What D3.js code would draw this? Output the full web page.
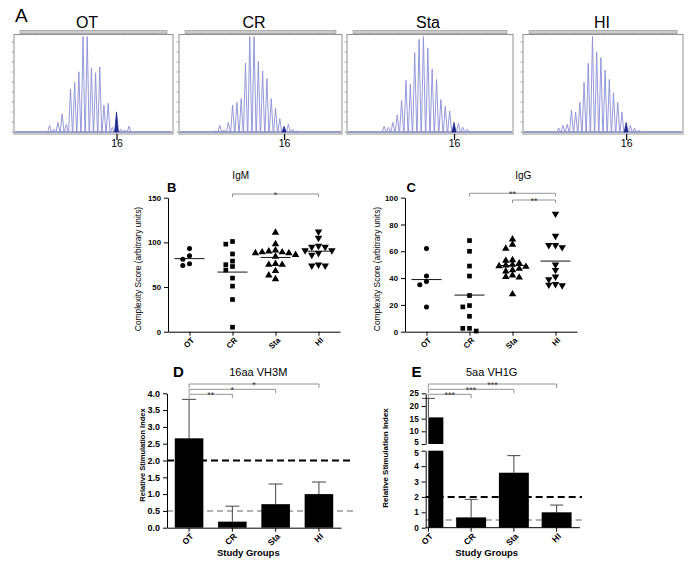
<!DOCTYPE html>
<html><head><meta charset="utf-8">
<script src="https://cdn.jsdelivr.net/npm/d3@7"></script>
<style>
body{margin:0;background:#fff}
svg{display:block}
text{font-family:"Liberation Sans",Arial,sans-serif}
</style>
</head><body>
<svg id="chart" width="694" height="567"></svg>
<script>
// ---------------- DATA ----------------
const groups = ["OT", "CR", "Sta", "HI"];

// Panel A: spectratype peak heights (relative), CDR3 length index 0..19
const spectraLengths = [0,1,2,3,4,5,6,7,8,9,10,11,12,13,14,15,16,17,18,19];
const spectraOT  = [0.07,0.03,0.10,0.19,0.08,0.45,0.52,0.63,1.00,1.00,0.67,0.62,0.68,0.28,0.30,0.05,0.21,0.03,0.02,0.06];
const spectraCR  = [0.01,0.07,0.02,0.10,0.28,0.31,0.35,0.72,1.00,1.00,0.74,0.64,0.56,0.35,0.25,0.14,0.06,0.08,0.03,0.01];
const spectraSta = [0.06,0.05,0.10,0.18,0.33,0.54,0.50,0.83,0.97,1.00,0.88,0.66,0.55,0.34,0.27,0.22,0.10,0.09,0.05,0.03];
const spectraHI  = [0.04,0.07,0.08,0.23,0.21,0.31,0.52,0.72,1.00,0.84,0.78,0.65,0.55,0.41,0.31,0.21,0.10,0.07,0.04,0.02];
const markedLength = 16;

// Panel B: IgM complexity scores
const igmOT  = [93, 85, 81, 76, 74];
const igmCR  = [101, 98, 87, 79, 75, 73, 69, 60, 51, 36, 5];
const igmSta = [111, 98, 91, 90, 89, 89, 88, 88, 86, 84, 76, 75, 75, 68, 63, 59];
const igmHI  = [112, 105, 96, 95, 95, 91, 91, 88, 86, 75, 74, 74];
const igmTicks = [0, 50, 100, 150];

// Panel C: IgG complexity scores
const iggOT  = [62, 41.5, 37.5, 35, 18.5];
const iggCR  = [68, 60, 49, 41.5, 27, 19.5, 18.5, 11.5, 2.5, 2.5, 0.5];
const iggSta = [69, 65, 62, 53.5, 53, 51, 50, 49.5, 49, 48.5, 47, 46, 45, 42, 41, 40.5, 28];
const iggHI  = [88, 71.5, 64.5, 64.5, 63, 50, 46, 41, 39, 35.5, 35, 34.5];
const iggTicks = [0, 20, 40, 60, 80, 100];

// Panel D: 16aa VH3M relative stimulation index (mean, mean+error)
const vh3mMean  = [2.66, 0.18, 0.70, 1.00];
const vh3mUpper = [3.82, 0.64, 1.30, 1.36];
const vh3mTicks = [0, 0.5, 1.0, 1.5, 2.0, 2.5, 3.0, 3.5, 4.0];

// Panel E: 5aa VH1G relative stimulation index (mean, mean+error)
const vh1gMean  = [15.5, 0.67, 3.57, 1.00];
const vh1gUpper = [23.0, 1.84, 4.68, 1.47];
const vh1gTicksLow  = [0, 1, 2, 3, 4, 5];
const vh1gTicksHigh = [5, 10, 15, 20, 25];

const cutoffHigh = 2.0, cutoffLow = 0.5;

// significance comparisons [from, to, label]
const sigB = [["CR", "HI", "*"]];
const sigC = [["CR", "HI", "**"], ["Sta", "HI", "**"]];
const sigD = [["OT", "HI", "*"], ["OT", "Sta", "*"], ["OT", "CR", "**"]];
const sigE = [["OT", "HI", "***"], ["OT", "Sta", "***"], ["OT", "CR", "***"]];

// ---------------- DRAW ----------------
const svg = d3.select("#chart");
const FONT = '"Liberation Sans",Arial,sans-serif';

// ===== Panel A =====
svg.append("text").attr("x", 15).attr("y", 22).attr("font-size", 19).text("A");
const spectra = [spectraOT, spectraCR, spectraSta, spectraHI];
const aFrames = [[14, 173], [179, 342], [347, 513], [523, 683]];
const aTitleX = [87, 254, 428, 602];
const aTop = 34.5, aBottom = 134, aBase = 132;
spectra.forEach((heights, p) => {
  const [l, r] = aFrames[p];
  const g = svg.append("g");
  const x = d3.scaleLinear().domain([-8.5, 29.5]).range([l, r]);
  const y = d3.scaleLinear().domain([0, 1]).range([aBase, 36.5]);
  g.append("text").attr("x", aTitleX[p]).attr("y", 28).attr("text-anchor", "middle")
    .attr("font-size", 16).text(groups[p]);
  // top gray marker bar
  g.append("rect").attr("x", l + 6).attr("y", 30.5).attr("width", r - l - 12).attr("height", 3)
    .attr("fill", "#cacaca").attr("stroke", "#8a8a8a").attr("stroke-width", 0.6);
  const barTicks = d3.range(l + 8, r - 5, 14.6);
  g.selectAll(".bt").data(barTicks).join("line")
    .attr("x1", d => d).attr("x2", d => d).attr("y1", 33.5).attr("y2", 35.5)
    .attr("stroke", "#777").attr("stroke-width", 0.5);
  // frame
  g.append("rect").attr("x", l).attr("y", aTop).attr("width", r - l).attr("height", aBottom - aTop)
    .attr("fill", "#fff").attr("stroke", "#777").attr("stroke-width", 0.8);
  // left ticks
  const lt = d3.range(aBase, aTop + 3, -10);
  g.selectAll(".lt").data(lt).join("line")
    .attr("x1", l - 2.5).attr("x2", l).attr("y1", d => d).attr("y2", d => d)
    .attr("stroke", "#777").attr("stroke-width", 0.6);
  // baseline
  g.append("line").attr("x1", l + 1).attr("x2", r - 1).attr("y1", aBase).attr("y2", aBase)
    .attr("stroke", "#39408f").attr("stroke-width", 1.2);
  const line = d3.line().x(d => x(d[0])).y(d => y(d[1]));
  heights.forEach((h, i) => {
    const a = spectraLengths[i];
    const pts = [[a - 0.45, 0], [a, h], [a + 0.45, 0]];
    if (a === markedLength) {
      g.append("path").attr("d", line(pts) + "Z").attr("fill", "#1f2b8e")
        .attr("stroke", "#1f2b8e").attr("stroke-width", 0.8);
    } else {
      g.append("path").attr("d", line(pts)).attr("fill", "none")
        .attr("stroke", "#8a8ed6").attr("stroke-width", 0.9);
    }
  });
  // marker tick + label
  const ax = d3.axisBottom(x).tickValues([markedLength]).tickSize(6).tickFormat(d3.format("d"));
  const ag = g.append("g").attr("transform", `translate(0,${aBottom})`).call(ax);
  ag.select(".domain").remove();
  ag.selectAll("line").attr("stroke", "#000").attr("stroke-width", 1.2);
  ag.selectAll("text").attr("font-size", 10.5).attr("font-family", FONT).attr("fill", "#000").attr("y", 6);
});

// ===== helper functions =====
function styleAxis(g, fs, bold) {
  g.selectAll("path.domain").attr("stroke", "#000").attr("stroke-width", 1);
  g.selectAll(".tick line").attr("stroke", "#000").attr("stroke-width", 1);
  g.selectAll("text").attr("font-size", fs).attr("font-family", FONT)
    .attr("font-weight", bold ? "bold" : "normal").attr("fill", "#000");
}
function rotateLabels(g, fs) {
  g.selectAll(".tick text").attr("text-anchor", "end").attr("x", -3).attr("y", 7)
    .attr("dy", "0.35em").attr("transform", "rotate(-45)").attr("font-size", fs).attr("font-weight", "bold");
}
function bracket(g, x1, x2, y, label, tick, fs) {
  g.append("path").attr("d", `M${x1},${y + tick}V${y}H${x2}V${y + tick}`)
    .attr("fill", "none").attr("stroke", "#777").attr("stroke-width", 0.8);
  g.append("text").attr("x", (x1 + x2) / 2).attr("y", y + 3.8).attr("text-anchor", "middle")
    .attr("font-size", fs).attr("fill", "#333").text(label);
}
function swarm(vals, y, step, thr) {
  const pts = vals.map(v => ({ v, y: y(v) })).sort((a, b) => b.v - a.v);
  const offs = [0];
  for (let k = 1; k < 8; k++) offs.push(-k * step, k * step);
  const placed = [];
  pts.forEach(p => {
    for (const o of offs) {
      if (!placed.some(q => Math.abs(q.y - p.y) < thr && Math.abs(q.o - o) < step * 0.9)) {
        p.o = o; placed.push(p); break;
      }
    }
  });
  return placed;
}
const symbolTypes = [d3.symbolCircle, d3.symbolSquare, d3.symbolTriangle, d3.symbolTriangle];
const symbolSizes = [20, 22, 24, 24];

// ===== Scatter panels B & C =====
function scatterPanel(cfg) {
  const g = svg.append("g");
  const y = d3.scaleLinear().domain(cfg.domain).range([331.7, 197.7]);
  const x = d3.scalePoint().domain(groups).range([cfg.x0, cfg.x0 + 172]).padding(0.5);
  g.append("text").attr("x", cfg.labelX).attr("y", 192).attr("font-size", 13).attr("font-weight", "bold").text(cfg.letter);
  g.append("text").attr("x", cfg.titleX).attr("y", 178.5).attr("text-anchor", "middle").attr("font-size", 10).text(cfg.title);
  const yg = g.append("g").attr("transform", `translate(${cfg.x0},0)`)
    .call(d3.axisLeft(y).tickValues(cfg.ticks).tickSize(4).tickSizeOuter(0).tickFormat(d3.format("d")));
  styleAxis(yg, 7.8, true);
  const xg = g.append("g").attr("transform", `translate(0,331.7)`)
    .call(d3.axisBottom(x).tickSize(4).tickSizeOuter(0));
  styleAxis(xg, 8, true);
  rotateLabels(xg, 8);
  g.append("text").attr("transform", `translate(${cfg.yTitleX},269) rotate(-90)`)
    .attr("text-anchor", "middle").attr("dy", "0.35em").attr("font-size", 8.4).text("Complexity Score (arbitrary units)");
  cfg.data.forEach((vals, i) => {
    const cx = x(groups[i]);
    const pts = swarm(vals, y, 6.7, 4.6);
    const sym = d3.symbol().type(symbolTypes[i]).size(symbolSizes[i]);
    g.selectAll(null).data(pts).join("path")
      .attr("d", sym)
      .attr("transform", d => `translate(${cx + d.o},${d.y})` + (i === 3 ? " rotate(180)" : ""))
      .attr("fill", "#000");
    const m = d3.mean(vals);
    g.append("line").attr("x1", cx - 15).attr("x2", cx + 15).attr("y1", y(m)).attr("y2", y(m))
      .attr("stroke", "#111").attr("stroke-width", 1);
  });
  cfg.sig.forEach((s, k) => bracket(g, x(s[0]), x(s[1]), cfg.sigY[k], s[2], 3, 9));
}
scatterPanel({ letter: "B", labelX: 167, title: "IgM", titleX: 240.7, x0: 168, yTitleX: 138.5,
  domain: [0, 150], ticks: igmTicks, data: [igmOT, igmCR, igmSta, igmHI], sig: sigB, sigY: [194] });
scatterPanel({ letter: "C", labelX: 406.5, title: "IgG", titleX: 523.3, x0: 405, yTitleX: 377,
  domain: [0, 100], ticks: iggTicks, data: [iggOT, iggCR, iggSta, iggHI], sig: sigC, sigY: [193.3, 200] });

// ===== Panel D =====
(function () {
  const g = svg.append("g");
  const y = d3.scaleLinear().domain([0, 4]).range([527.7, 393.3]);
  const x = d3.scaleBand().domain(groups).range([167, 341]).paddingInner(0.34).paddingOuter(0.18);
  g.append("text").attr("x", 173).attr("y", 377).attr("font-size", 15).attr("font-weight", "bold").text("D");
  g.append("text").attr("x", 258.3).attr("y", 376).attr("text-anchor", "middle").attr("font-size", 11).text("16aa VH3M");
  // cutoff lines
  g.append("line").attr("x1", 167).attr("x2", 353).attr("y1", y(cutoffHigh)).attr("y2", y(cutoffHigh))
    .attr("stroke", "#000").attr("stroke-width", 2).attr("stroke-dasharray", "7,4");
  g.append("line").attr("x1", 167).attr("x2", 353).attr("y1", y(cutoffLow)).attr("y2", y(cutoffLow))
    .attr("stroke", "#999").attr("stroke-width", 1.5).attr("stroke-dasharray", "6,4");
  groups.forEach((k, i) => {
    const cx = x(k) + x.bandwidth() / 2;
    g.append("line").attr("x1", cx).attr("x2", cx).attr("y1", y(vh3mMean[i])).attr("y2", y(vh3mUpper[i]))
      .attr("stroke", "#444").attr("stroke-width", 1);
    g.append("line").attr("x1", cx - 7).attr("x2", cx + 7).attr("y1", y(vh3mUpper[i])).attr("y2", y(vh3mUpper[i]))
      .attr("stroke", "#444").attr("stroke-width", 1);
    g.append("rect").attr("x", x(k)).attr("width", x.bandwidth())
      .attr("y", y(vh3mMean[i])).attr("height", y(0) - y(vh3mMean[i])).attr("fill", "#000");
  });
  const yg = g.append("g").attr("transform", "translate(167,0)")
    .call(d3.axisLeft(y).tickValues(vh3mTicks).tickSize(4).tickSizeOuter(0).tickFormat(d3.format(".1f")));
  styleAxis(yg, 9, true);
  const xg = g.append("g").attr("transform", "translate(0,527.7)")
    .call(d3.axisBottom(x).tickSize(4).tickSizeOuter(0));
  styleAxis(xg, 8.5, true);
  rotateLabels(xg, 8.5);
  g.append("text").attr("transform", "translate(142.7,455) rotate(-90)").attr("text-anchor", "middle")
    .attr("dy", "0.35em").attr("font-size", 7.5).attr("font-weight", "bold").text("Relative Stimulation Index");
  g.append("text").attr("x", 248.3).attr("y", 556).attr("text-anchor", "middle").attr("font-size", 9.5)
    .attr("font-weight", "bold").text("Study Groups");
  const sy = [384, 389.3, 394.3];
  sigD.forEach((s, k) => bracket(g, x(s[0]) + x.bandwidth() / 2, x(s[1]) + x.bandwidth() / 2, sy[k], s[2], 4, 9));
})();

// ===== Panel E =====
(function () {
  const g = svg.append("g");
  const yLow = d3.scaleLinear().domain([0, 5]).range([527.7, 450.7]);
  const yHigh = d3.scaleLinear().domain([5, 25]).range([444, 393.3]);
  const x = d3.scaleBand().domain(groups).range([407, 578]).paddingInner(0.3).paddingOuter(0.15);
  const ax0 = 425.7;
  g.append("text").attr("x", 411.5).attr("y", 377).attr("font-size", 15).attr("font-weight", "bold").text("E");
  g.append("text").attr("x", 491.7).attr("y", 376).attr("text-anchor", "middle").attr("font-size", 11).text("5aa VH1G");
  g.append("line").attr("x1", ax0).attr("x2", 582).attr("y1", yLow(cutoffHigh)).attr("y2", yLow(cutoffHigh))
    .attr("stroke", "#000").attr("stroke-width", 2).attr("stroke-dasharray", "7,4");
  g.append("line").attr("x1", ax0).attr("x2", 582).attr("y1", yLow(cutoffLow)).attr("y2", yLow(cutoffLow))
    .attr("stroke", "#999").attr("stroke-width", 1.5).attr("stroke-dasharray", "6,4");
  g.append("clipPath").attr("id", "eclip").append("rect").attr("x", ax0 + 2.6).attr("y", 380).attr("width", 200).attr("height", 160);
  const bars = g.append("g").attr("clip-path", "url(#eclip)");
  groups.forEach((k, i) => {
    const cx = x(k) + x.bandwidth() / 2;
    const v = vh1gMean[i], u = vh1gUpper[i];
    const ys = d => d > 5 ? yHigh(d) : yLow(d);
    g.append("line").attr("x1", cx).attr("x2", cx).attr("y1", ys(v)).attr("y2", ys(u))
      .attr("stroke", "#444").attr("stroke-width", 1);
    g.append("line").attr("x1", cx - 6.5).attr("x2", cx + 6.5).attr("y1", ys(u)).attr("y2", ys(u))
      .attr("stroke", "#444").attr("stroke-width", 1);
    const lowTop = Math.min(v, 5);
    bars.append("rect").attr("x", x(k)).attr("width", x.bandwidth())
      .attr("y", yLow(lowTop)).attr("height", yLow(0) - yLow(lowTop)).attr("fill", "#000");
    if (v > 5) {
      bars.append("rect").attr("x", x(k)).attr("width", x.bandwidth())
        .attr("y", yHigh(v)).attr("height", yHigh(5) - yHigh(v)).attr("fill", "#000");
    }
  });
  const ygl = g.append("g").attr("transform", `translate(${ax0},0)`)
    .call(d3.axisLeft(yLow).tickValues(vh1gTicksLow).tickSize(4).tickSizeOuter(0).tickFormat(d3.format("d")));
  styleAxis(ygl, 8.2, true);
  ygl.selectAll(".tick text").filter(d => d === 5).attr("dy", "0.55em");
  const ygh = g.append("g").attr("transform", `translate(${ax0},0)`)
    .call(d3.axisLeft(yHigh).tickValues(vh1gTicksHigh).tickSize(4).tickSizeOuter(0).tickFormat(d3.format("d")));
  styleAxis(ygh, 8.2, true);
  ygh.selectAll(".tick text").filter(d => d === 5).attr("dy", "0.1em");
  const xg = g.append("g").attr("transform", "translate(0,527.7)")
    .call(d3.axisBottom(x).tickSize(4).tickSizeOuter(0));
  xg.select(".domain").remove();
  styleAxis(xg, 8.5, true);
  rotateLabels(xg, 8.5);
  g.append("line").attr("x1", ax0).attr("x2", 580).attr("y1", 527.7).attr("y2", 527.7).attr("stroke", "#000");
  g.append("text").attr("transform", "translate(385.5,458) rotate(-90)").attr("text-anchor", "middle")
    .attr("dy", "0.35em").attr("font-size", 8).attr("font-weight", "bold").text("Relative Stimulation Index");
  g.append("text").attr("x", 486.7).attr("y", 556).attr("text-anchor", "middle").attr("font-size", 9.5)
    .attr("font-weight", "bold").text("Study Groups");
  const sy = [384, 389.3, 394.3];
  sigE.forEach((s, k) => bracket(g, x(s[0]) + x.bandwidth() / 2, x(s[1]) + x.bandwidth() / 2, sy[k], s[2], 4, 9));
})();
</script>
</body></html>
